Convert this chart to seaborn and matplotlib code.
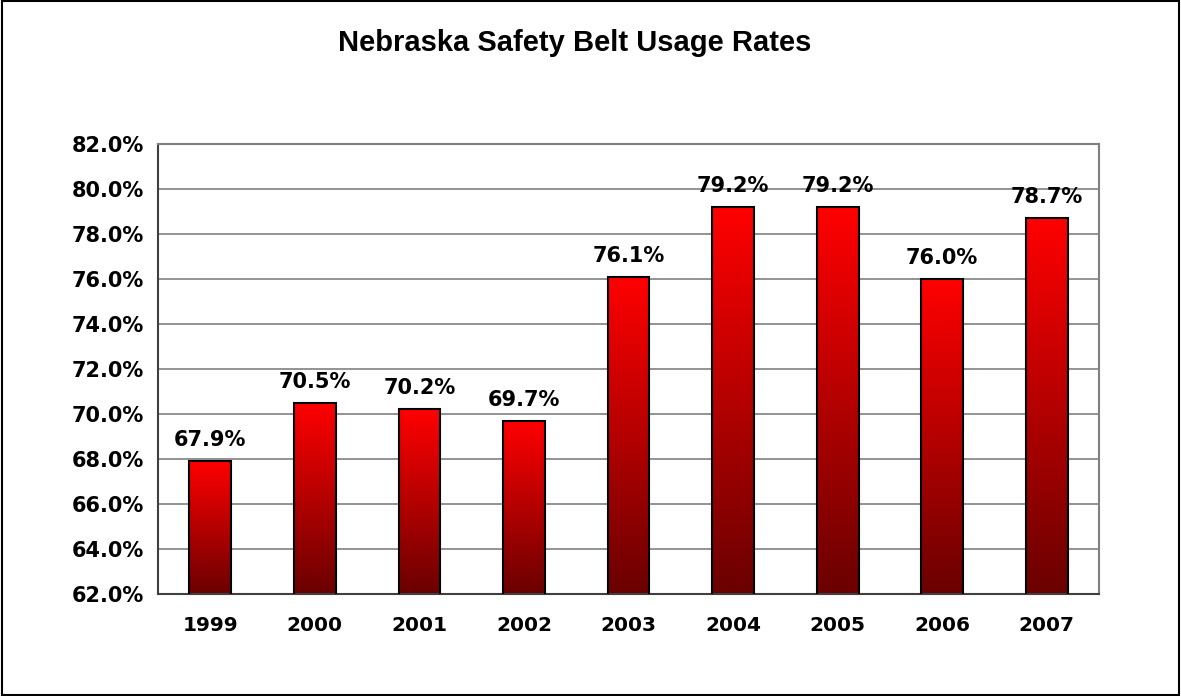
import matplotlib
matplotlib.use("Agg")
import matplotlib.pyplot as plt
import seaborn as sns
import numpy as np
import pandas as pd
from matplotlib.colors import LinearSegmentedColormap
from matplotlib.ticker import FuncFormatter, FixedLocator

# data
years = ["1999", "2000", "2001", "2002", "2003", "2004", "2005", "2006", "2007"]
rates = [67.9, 70.5, 70.2, 69.7, 76.1, 79.2, 79.2, 76.0, 78.7]
yticks = [62, 64, 66, 68, 70, 72, 74, 76, 78, 80, 82]

sns.set_style("white")
plt.rcParams['font.family'] = ['DejaVu Sans']
plt.rcParams['text.color'] = 'black'
plt.rcParams['xtick.labelcolor'] = 'black'
plt.rcParams['ytick.labelcolor'] = 'black'

df = pd.DataFrame({"year": years, "rate": rates})

fig = plt.figure(figsize=(11.81, 6.96), dpi=100)
ax = fig.add_axes([0.1338, 0.1466, 0.7968, 0.6465])

sns.barplot(data=df, x="year", y="rate", width=0.4, color="red",
            edgecolor="black", linewidth=1.5, ax=ax, zorder=3)

ax.set_ylim(62, 82)
ax.set_xlim(-0.5, len(years) - 0.5)

# vertical gradient inside each bar
cmap = LinearSegmentedColormap.from_list("redgrad", ["#6a0000", "#ff0000"])
grad = np.linspace(0, 1, 256).reshape(-1, 1)
for p in ax.patches:
    x0, y0 = p.get_x(), p.get_y()
    w, h = p.get_width(), p.get_height()
    y0 = max(y0, 62)
    top = p.get_y() + h
    im = ax.imshow(grad, cmap=cmap, aspect="auto", origin="lower",
                   extent=[x0, x0 + w, y0, top], zorder=2.5)
    im.set_clip_path(p)
    p.set_facecolor("none")

for i, v in enumerate(rates):
    ax.annotate(f"{v:.1f}%", (i, v), xytext=(0, 8), textcoords="offset points",
                ha="center", va="bottom", fontsize=15, fontweight="bold",
                color="black", zorder=4)

ax.yaxis.set_major_locator(FixedLocator(yticks))
ax.yaxis.set_major_formatter(FuncFormatter(lambda v, pos: f"{v:.1f}%"))
ax.grid(axis="y", color="#808080", linewidth=1.2, zorder=0)
ax.set_axisbelow(True)

ax.set_xticks(range(len(years)))
ax.set_xticks(np.arange(-0.5, len(years)), minor=True)
ax.tick_params(axis="x", which="major", length=0, pad=16)
ax.tick_params(axis="x", which="minor", length=6, width=1.2, color="#404040")
ax.tick_params(axis="y", length=6, width=1.2, color="#404040", pad=4)
for lab in ax.get_xticklabels():
    lab.set_fontsize(14.5)
    lab.set_fontweight("bold")
for lab in ax.get_yticklabels():
    lab.set_fontsize(15)
    lab.set_fontweight("bold")

ax.set_xlabel("")
ax.set_ylabel("")

for side in ["left", "bottom"]:
    ax.spines[side].set_color("#404040")
    ax.spines[side].set_linewidth(1.5)
for side in ["top", "right"]:
    ax.spines[side].set_color("#808080")
    ax.spines[side].set_linewidth(1.5)
    ax.spines[side].set_visible(True)

fig.text(0.487, 0.938, "Nebraska Safety Belt Usage Rates", ha="center", va="center",
         fontsize=21, fontweight="bold", family=["Liberation Sans", "DejaVu Sans"])

# outer border of the chart
fig.patches.append(plt.Rectangle((0.002, 0.002), 0.996, 0.996, transform=fig.transFigure,
                                 fill=False, edgecolor="black", linewidth=1.5))

fig.savefig("out.png", dpi=100)
